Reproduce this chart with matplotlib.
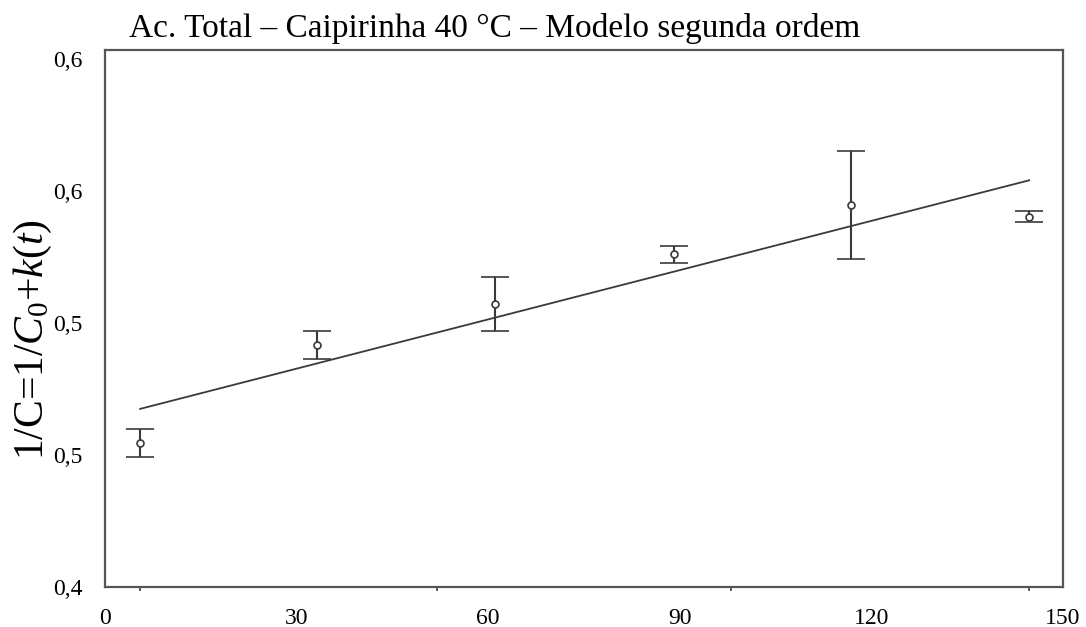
import numpy as np
import matplotlib
matplotlib.use("Agg")
import matplotlib.pyplot as plt

plt.rcParams['font.family'] = ['Liberation Serif', 'DejaVu Serif']
plt.rcParams['mathtext.fontset'] = 'custom'
plt.rcParams['mathtext.rm'] = 'Liberation Serif'
plt.rcParams['mathtext.it'] = 'Liberation Serif:italic'

# Sampling times and measured 1/C values with their error bars
tempo = [5.5, 33.2, 61.1, 89.1, 116.8, 144.7]
inv_c = [0.4545, 0.4917, 0.5072, 0.5261, 0.5447, 0.5402]
erro = [0.0053, 0.0053, 0.0104, 0.0032, 0.0203, 0.0021]

x_ticks = [0, 30, 60, 90, 120, 150]
y_ticks = [0.40, 0.45, 0.50, 0.55, 0.60]
y_tick_labels = ["0,4", "0,5", "0,5", "0,6", "0,6"]

titulo = "Ac. Total – Caipirinha 40 °C – Modelo segunda ordem"
rotulo_y = r"1/C=1/$C_{\mathit{0}}$+$k(t)$"

cinza = "#3a3a3a"

fig = plt.figure(figsize=(10.86, 6.27), dpi=100)
ax = fig.add_axes([105 / 1086, 40 / 627, 958 / 1086, 537 / 627])

# Second-order model: linear fit of 1/C against time
coef = np.polyfit(tempo, inv_c, 1)
t_fit = np.array([tempo[0], tempo[-1]])
ax.plot(t_fit, np.polyval(coef, t_fit), color=cinza, lw=1.3, zorder=2)

ax.errorbar(tempo, inv_c, yerr=erro, fmt='o', ms=5, mfc='white',
            mec=cinza, mew=1.2, ecolor=cinza, elinewidth=1.5,
            capsize=10, capthick=1.5, zorder=3)

ax.set_xlim(0, 150)
ax.set_ylim(0.40, 0.6034)

ax.set_xticks(x_ticks)
ax.set_xticklabels([str(v) for v in x_ticks], fontsize=17)
ax.set_yticks(y_ticks)
ax.set_yticklabels(y_tick_labels, fontsize=17)
ax.tick_params(axis='both', length=0, colors='black')
ax.tick_params(axis='x', pad=15)
ax.tick_params(axis='y', pad=16)

# small marks on the time axis at the sampling positions
ax.set_xticks([tempo[0], 52, 98, tempo[-1]], minor=True)
ax.tick_params(axis='x', which='minor', length=3, width=1.2, color=cinza)

for s in ax.spines.values():
    s.set_color('#555555')
    s.set_linewidth(1.6)

fig.text(495 / 1086, 1 - 28 / 627, titulo, ha='center', va='center',
         fontsize=24)
fig.text(33 / 1086, 1 - 340 / 627, rotulo_y, ha='center', va='center',
         rotation=90, fontsize=30)

fig.savefig("out.png", dpi=100)
